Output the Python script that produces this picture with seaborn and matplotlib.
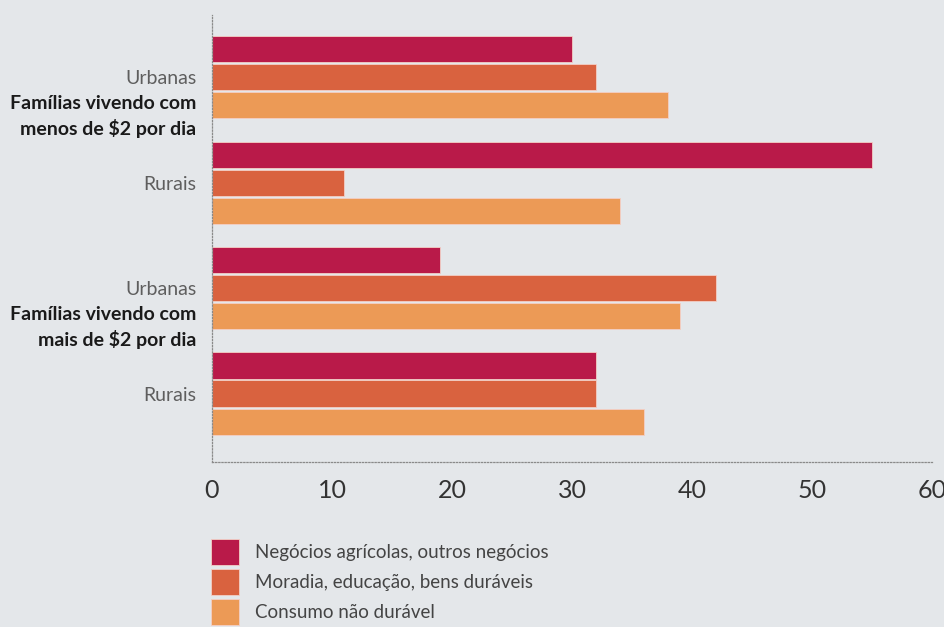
import matplotlib
matplotlib.use("Agg")
import matplotlib.pyplot as plt
import seaborn as sns
import pandas as pd
from matplotlib.ticker import FixedLocator

# Income groups, areas and spending categories
groups = ["Famílias vivendo com\nmenos de $2 por dia", "Famílias vivendo com\nmais de $2 por dia"]
areas = ["Urbanas", "Rurais"]
categories = [
    "Negócios agrícolas, outros negócios",
    "Moradia, educação, bens duráveis",
    "Consumo não durável",
]

# Values per (group, area) row, one list per spending category
agricultural = [30, 55, 19, 32]
housing = [32, 11, 42, 32]
consumption = [38, 34, 39, 36]

colors = ["#b91a49", "#d9623f", "#ec9a56"]
bg = "#e4e7ea"

row_keys = [f"{gi}-{a}" for gi in range(len(groups)) for a in areas]
rows = []
for i, key in enumerate(row_keys):
    for cat, vals in zip(categories, [agricultural, housing, consumption]):
        rows.append({"linha": key, "categoria": cat, "valor": vals[i]})
df = pd.DataFrame(rows)

sns.set_style("white")
plt.rcParams["font.family"] = ["Lato", "DejaVu Sans"]

fig = plt.figure(figsize=(9.45, 6.27), dpi=100, facecolor=bg)
ax = fig.add_axes([0.2243, 0.263, 0.762, 0.713])
ax.set_facecolor(bg)

sns.barplot(
    data=df, x="valor", y="linha", hue="categoria", order=row_keys,
    hue_order=categories, palette=colors, saturation=1, orient="h",
    width=0.8, gap=0.07, edgecolor="#f3cfc6", linewidth=0.6, ax=ax,
    legend=True,
)

ax.set_xlim(0, 60)
ax.set_ylim(3.65, -0.59)
ax.set_xlabel("")
ax.set_ylabel("")

ax.set_xticks(range(0, 61, 10))
ax.tick_params(axis="x", direction="in", length=5, width=0.8, color="#8a8a8a",
               labelsize=18, labelcolor="#333333", pad=12)
ax.set_yticks(range(len(row_keys)))
ax.set_yticklabels([areas[i % 2] for i in range(len(row_keys))],
                   fontsize=14, color="#5e5e5e", fontweight="normal")
ax.tick_params(axis="y", length=0, pad=11)
ax.yaxis.set_minor_locator(FixedLocator([0.5, 1.5, 2.5, 3.5]))
ax.tick_params(axis="y", which="minor", direction="inout", length=4,
               width=0.8, color="#8a8a8a")

for side in ["top", "right"]:
    ax.spines[side].set_visible(False)
for side in ["left", "bottom"]:
    ax.spines[side].set_color("#8a8a8a")
    ax.spines[side].set_linestyle((0, (1, 1.5)))
    ax.spines[side].set_linewidth(0.9)

# Bold income-group labels under each "Urbanas" row
for gi, g in enumerate(groups):
    ax.text(-0.022, 2 * gi + 0.37, g, transform=ax.get_yaxis_transform(),
            ha="right", va="center", fontsize=14, fontweight="bold",
            color="#1a1a1a", linespacing=1.45)

handles, labels = ax.get_legend_handles_labels()
ax.legend_.remove()
fig.legend(handles, labels, loc="upper left", bbox_to_anchor=(0.223, 0.140),
           bbox_transform=fig.transFigure, frameon=False, fontsize=13.5,
           labelcolor="#444444", handlelength=1.5, handleheight=1.75,
           handletextpad=0.85, labelspacing=0.22, borderpad=0, borderaxespad=0)

fig.savefig("out.png", dpi=100, facecolor=bg)
